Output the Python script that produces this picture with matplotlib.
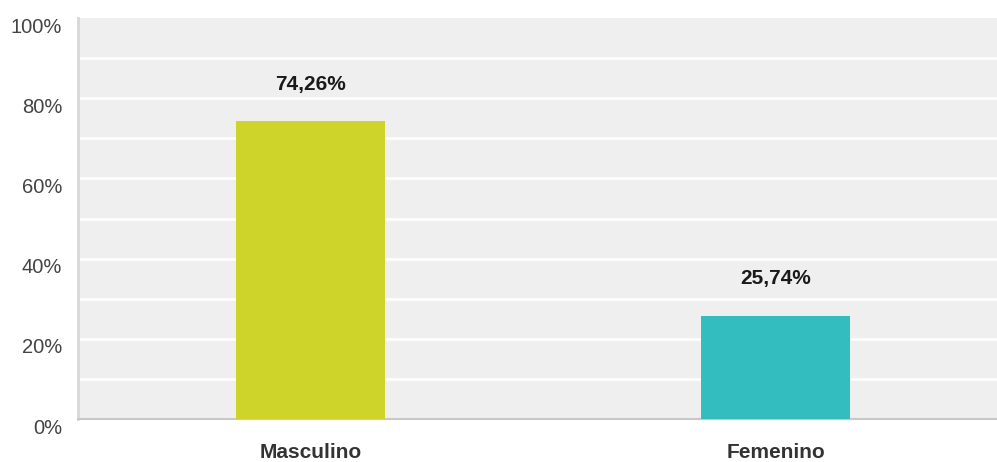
import numpy as np
import matplotlib.pyplot as plt

plt.rcParams['font.family'] = ['Liberation Sans', 'DejaVu Sans']

categories = ['Masculino', 'Femenino']
values = [74.26, 25.74]
labels = ['74,26%', '25,74%']
colors = ['#cfd42a', '#33bdbf']
yticks = [0, 20, 40, 60, 80, 100]

fig = plt.figure(figsize=(9.97, 4.62), dpi=100)
ax = fig.add_axes([78 / 997, 43 / 462, 919 / 997, 401 / 462])
ax.set_facecolor('#efefef')

index = np.arange(len(categories))
bar_width = 0.32

rects = ax.bar(index, values, bar_width, color=colors, zorder=3)

for rect, text in zip(rects, labels):
    ax.annotate(text, (rect.get_x() + rect.get_width() / 2., rect.get_height()),
                xytext=(0, 26.5), textcoords='offset points', ha='center', va='center',
                fontsize=15, fontweight='bold', color='#1a1a1a')

ax.set_xlim(-0.5, -0.5 + 919 / 465)
ax.set_ylim(0, 100)

# grid every 10%, labels every 20% sitting just under their line
for y in np.arange(10, 100, 10):
    ax.axhline(y, color='white', lw=1.8, zorder=1)

ax.set_yticks(yticks)
ax.set_yticklabels([])
ax.tick_params(axis='y', length=0)
ytrans = ax.get_yaxis_transform()
for v in yticks:
    ax.annotate('%d%%' % v, (0, v), xycoords=ytrans, xytext=(-11.5, -6.5),
                textcoords='offset points', ha='right', va='center',
                fontsize=14.5, color='#444444', annotation_clip=False)

ax.set_xticks(index)
ax.set_xticklabels(categories, fontsize=15, fontweight='bold', color='#333333')
ax.tick_params(axis='x', length=0, pad=17)

for side in ['top', 'right']:
    ax.spines[side].set_visible(False)
ax.spines['left'].set_color('#d8d8d8')
ax.spines['left'].set_linewidth(2)
ax.spines['bottom'].set_color('#c8c8c8')
ax.spines['bottom'].set_linewidth(1.5)

plt.savefig('out.png', dpi=100)
